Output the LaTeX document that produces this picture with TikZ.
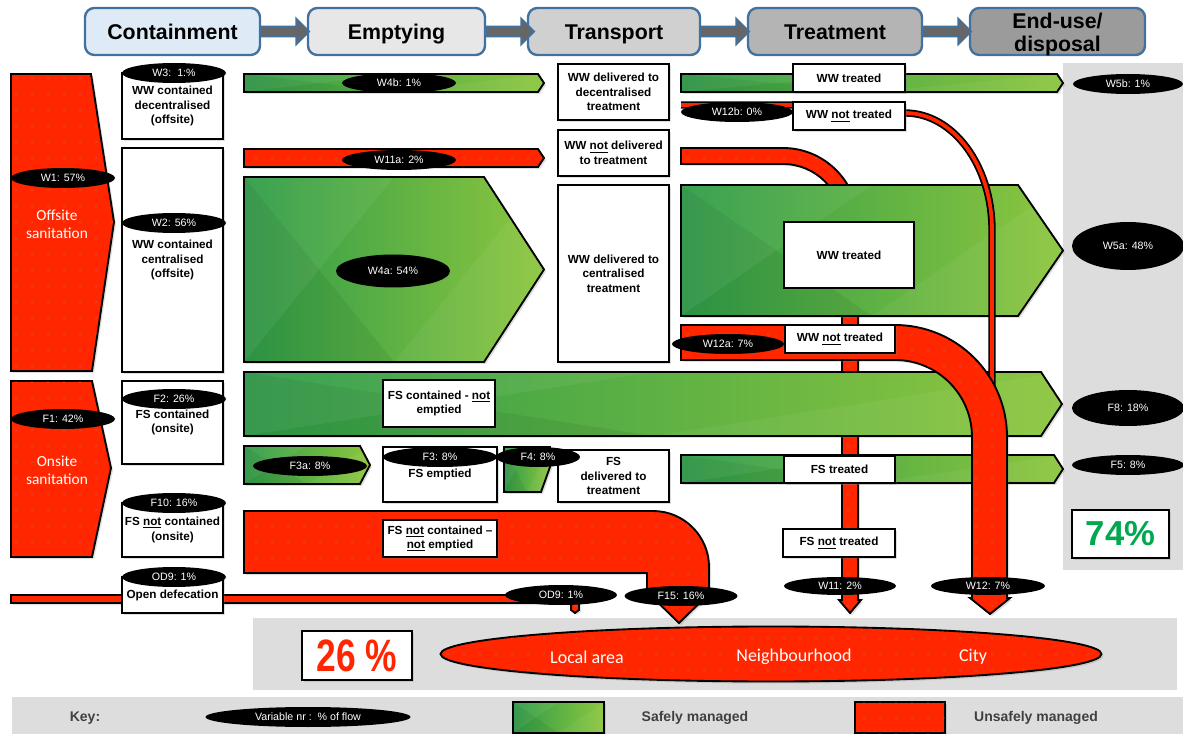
\documentclass[tikz,border=0pt]{standalone}
\usepackage{fontspec}
\setmainfont{Liberation Sans}
\newfontfamily\calfont{Carlito}
\usetikzlibrary{shapes.geometric,shadows,patterns}
\definecolor{sred}{RGB}{255,38,0}
\definecolor{gdark}{RGB}{46,156,72}
\definecolor{gmid}{RGB}{84,182,72}
\definecolor{glight}{RGB}{141,198,63}
\definecolor{hblue}{RGB}{65,113,156}
\definecolor{panel}{RGB}{221,221,221}
\definecolor{keytext}{RGB}{64,64,64}
\definecolor{pctgreen}{RGB}{0,168,80}
\definecolor{hbA}{RGB}{222,235,247}
\definecolor{hbB}{RGB}{231,231,231}
\definecolor{hbC}{RGB}{208,208,208}
\definecolor{hbD}{RGB}{180,180,180}
\definecolor{hbE}{RGB}{155,155,155}
\pgfdeclarepatternformonly{sparsedots}{\pgfqpoint{-1pt}{-1pt}}{\pgfqpoint{1pt}{1pt}}{\pgfqpoint{12pt}{12pt}}{\pgfpathcircle{\pgfqpoint{0pt}{0pt}}{0.5pt}\pgfusepath{fill}}
\tikzset{
  redshape/.style={fill=sred, draw=black, line width=1.4pt, postaction={pattern=sparsedots, pattern color=gray!80}},
  greenshape/.style={left color=gdark, middle color=gmid, right color=glight, draw=black, line width=1.4pt,
    path picture={
      \fill[black,opacity=0.06] (path picture bounding box.north west) -- (path picture bounding box.south) -- (path picture bounding box.south west) -- cycle;
      \fill[white,opacity=0.06] (path picture bounding box.south west) -- (path picture bounding box.north) -- (path picture bounding box.north west) -- cycle;
      \fill[white,opacity=0.05] (path picture bounding box.south) -- (path picture bounding box.north east) -- (path picture bounding box.south east) -- cycle;
    }},
  wb/.style={draw=black, fill=white, line width=1.4pt, align=center, inner sep=1pt, font=\bfseries\fontsize{8.8}{11}\selectfont},
  lab/.style={ellipse, fill=black, text=white, inner sep=0pt, font=\fontsize{8}{9}\selectfont},
  hdr/.style={draw=hblue, line width=1.8pt, rounded corners=7pt, font=\bfseries\fontsize{16}{17}\selectfont, align=center},
  harrow/.style={fill=black!60, draw=hblue, line width=1.2pt},
  shad/.style={drop shadow={opacity=0.25, shadow xshift=1.5pt, shadow yshift=-1.5pt}},
  wtxt/.style={text=white, align=center, font=\calfont\fontsize{11.5}{13.5}\selectfont},
  dtxt/.style={text=white, font=\calfont\fontsize{13.5}{15}\selectfont},
  keyt/.style={text=keytext, font=\bfseries\fontsize{10.5}{12}\selectfont},
}
\newcommand\wbox[7][]{\node[wb,shad,minimum width=#5*0.75pt,minimum height=#6*0.75pt,#1] (#2) at (#3,#4) {#7};}
\newcommand\elab[6]{\node[lab,minimum width=#4*0.75pt,minimum height=#5*0.75pt] (#1) at (#2,#3) {#6};}
\begin{document}
\begin{tikzpicture}[x=0.75pt,y=-0.75pt]
\useasboundingbox (0,0) rectangle (1183,734);
\fill[white] (0,0) rectangle (1183,734);
% panels
\fill[panel] (1063,63) rectangle (1183,570);
\fill[panel] (253,618) rectangle (1177,690);
\fill[panel] (12,697) rectangle (1183,734);

% header boxes
\node[hdr, fill=hbA, minimum width=175*0.75pt, minimum height=47*0.75pt, text height=11.5pt, text depth=0pt] (h1) at (172.5,31.5) {Containment};
\node[hdr, fill=hbB, minimum width=177*0.75pt, minimum height=47*0.75pt, text height=11.5pt, text depth=0pt] (h2) at (396.5,31.5) {Emptying};
\node[hdr, fill=hbC, minimum width=172*0.75pt, minimum height=47*0.75pt, text height=11.5pt, text depth=0pt] (h3) at (614,31.5) {Transport};
\node[hdr, fill=hbD, minimum width=174*0.75pt, minimum height=47*0.75pt, text height=11.5pt, text depth=0pt] (h4) at (835,31.5) {Treatment};
\node[hdr, fill=hbE, minimum width=175*0.75pt, minimum height=47*0.75pt] (h5) at (1057.5,31.5) {};
\node[font=\bfseries\fontsize{16}{17}\selectfont, align=center] (h5t) at (1057.5,34.5) {End-use/\\disposal};
% header arrows
\foreach \a/\b in {h1/h2,h2/h3,h3/h4,h4/h5}{
  \path[harrow] (\a.east) ++(0,-5) -- ++(35,0) -- ++(0,-8) -- ++(13,13) -- ++(-13,13) -- ++(0,-8) -- ++(-35,0) -- cycle;
}

% left red shapes
\path[redshape,shad] (11,74) -- (91,74) -- (114,222) -- (92,371) -- (11,371) -- cycle;
\node[wtxt] (offs) at (57,224) {Offsite\\sanitation};
\path[redshape,shad] (11,381) -- (92,381) -- (111,468) -- (92,557) -- (11,557) -- cycle;
\node[wtxt] (ons) at (57,470) {Onsite\\sanitation};

% W11 flow (behind green)
\path[redshape,shad] (681,148) -- (783,148) arc[start angle=-90, end angle=0, radius=75] -- (858,600) -- (861,600) -- (850,613) -- (839,600) -- (842,600) -- (842,223) arc[start angle=0, end angle=-90, radius=59] -- (681,164) -- cycle;

% green flows
\path[greenshape,shad] (244,74) -- (538,74) -- (544,83) -- (538,92) -- (244,92) -- cycle;
\path[greenshape,shad] (244,177) -- (484,177) -- (544,269.5) -- (484,362) -- (244,362) -- cycle;
\path[greenshape,shad] (244,372) -- (1041,372) -- (1062,404) -- (1041,436) -- (244,436) -- cycle;
\path[greenshape,shad] (244,446) -- (360,446) -- (370,465) -- (360,484) -- (244,484) -- cycle;
\path[greenshape,shad] (504,447) -- (550,447) -- (550,467) -- (541,492) -- (504,492) -- cycle;
\path[greenshape,shad] (681,74) -- (1057,74) -- (1063,83) -- (1057,92) -- (681,92) -- cycle;
\path[greenshape,shad] (681,185) -- (1018,185) -- (1063,250.5) -- (1018,316) -- (681,316) -- cycle;
\path[greenshape,shad] (681,455) -- (1054,455) -- (1063,469) -- (1054,483) -- (681,483) -- cycle;

% W11a red bar
\path[redshape,shad] (244,149) -- (538,149) -- (544,158) -- (538,167) -- (244,167) -- cycle;

% W12b thin flow
\draw[sred, line width=2.8pt, preaction={draw=black, line width=5.5pt}] (681,105) -- (800,105) -- (905,113) arc[start angle=-90, end angle=0, x radius=87, y radius=117] -- (992,395);

% W12a flow
\path[redshape,shad] (681,325) -- (895,325) arc[start angle=-90, end angle=0, radius=112] -- (1007,598) -- (1010,598) -- (990,614) -- (970,598) -- (972,598) -- (972,437) arc[start angle=0, end angle=-90, radius=77] -- (681,360) -- cycle;

% F15 flow
\path[redshape,shad] (244,511) -- (653,511) arc[start angle=-90, end angle=0, radius=56] -- (709,590) -- (713,590) -- (679,623) -- (645,590) -- (647,590) -- (647,573) -- (244,573) -- cycle;

% OD flow
\path[redshape,shad] (11,595) -- (579,595) -- (579,610) -- (575,613) -- (571,610) -- (571,603) -- (11,603) -- cycle;

% containment boxes
\wbox{c1}{172.5}{106}{101}{66}{WW contained\\decentralised\\(offsite)}
\wbox{c2}{172.5}{260}{101}{224}{WW contained\\centralised\\(offsite)}
\wbox{c3}{172.5}{422.5}{101}{83}{FS contained\\(onsite)}
\wbox{c4}{172.5}{530}{101}{54}{FS \underline{not} contained\\(onsite)}
\wbox{c5}{172.5}{595}{101}{36}{Open defecation}

% emptying boxes
\wbox{e1}{439}{403.5}{112}{47}{FS contained - \underline{not}\\emptied}
\wbox{e2}{440}{474.5}{114}{55}{FS emptied}
\wbox{e3}{440}{538.5}{114}{37}{FS \underline{not} contained --\\\underline{not} emptied}

% transport boxes
\wbox{t1}{613.5}{92}{111}{56}{WW delivered to\\decentralised\\treatment}
\wbox{t2}{613.5}{153}{111}{46}{WW \underline{not} delivered\\to treatment}
\wbox{t3}{613.5}{273.5}{111}{177}{WW delivered to\\centralised\\treatment}
\wbox{t4}{613.5}{476}{111}{52}{FS\\delivered to\\treatment}

% treatment boxes
\wbox{r1}{849}{78}{112}{28}{WW treated}
\wbox{r2}{849}{116}{112}{28}{WW \underline{not} treated}
\wbox{r3}{849}{255}{130}{66}{WW treated}
\wbox{r4}{840}{339}{110}{28}{WW \underline{not} treated}
\wbox{r5}{839.5}{469.5}{111}{27}{FS treated}
\wbox{r6}{839}{543}{112}{28}{FS \underline{not} treated}

% percentage boxes
\node[draw=black, fill=white, line width=1.4pt, shad, minimum width=97*0.75pt, minimum height=48*0.75pt, inner sep=0pt] (p74) at (1120.5,534) {\fontsize{26}{26}\selectfont\bfseries\color{pctgreen}74\%};
\node[draw=black, fill=white, line width=1.4pt, shad, minimum width=110*0.75pt, minimum height=49*0.75pt, inner sep=0pt] (p26) at (357,655.5) {\scalebox{0.78}[1]{\fontsize{34}{34}\selectfont\bfseries\color{sred}26 \%}};

% destination ellipse
\node[ellipse, redshape, shad, minimum width=661*0.75pt, minimum height=55*0.75pt] (dest) at (771,654) {};
\node[dtxt] (loc) at (587,657) {Local area};
\node[dtxt] (nei) at (794,657) {Neighbourhood};
\node[dtxt] (cit) at (973,657) {City};

% labels
\elab{w1}{63}{178}{104}{20}{W1: 57\%}
\elab{f1}{63}{419}{104}{20}{F1: 42\%}
\elab{w3}{174}{73}{104}{20}{W3:\ \ 1:\%}
\elab{w2}{174}{223}{104}{20}{W2: 56\%}
\elab{f2}{174}{399}{104}{20}{F2: 26\%}
\elab{f10}{174}{503}{104}{20}{F10: 16\%}
\elab{od9}{174}{577}{104}{20}{OD9: 1\%}
\elab{w4b}{399}{83}{114}{20}{W4b: 1\%}
\elab{w11a}{399}{160}{114}{20}{W11a: 2\%}
\elab{w4a}{393}{271}{114}{33}{W4a: 54\%}
\elab{f3a}{310}{466}{114}{20}{F3a: 8\%}
\elab{f3}{440}{457}{114}{20}{F3: 8\%}
\elab{f4}{538}{457}{84}{20}{F4: 8\%}
\elab{od9b}{561}{595}{112}{20}{OD9: 1\%}
\elab{f15}{681}{596}{113}{20}{F15: 16\%}
\elab{w12b}{737}{112}{112}{20}{W12b: 0\%}
\elab{w12a}{728}{344}{112}{20}{W12a: 7\%}
\elab{w11}{840}{586}{112}{18}{W11: 2\%}
\elab{w12}{988}{586}{114}{18}{W12: 7\%}
\elab{w5b}{1128}{84}{110}{20}{W5b: 1\%}
\elab{w5a}{1128}{246}{112}{48}{W5a: 48\%}
\elab{f8}{1128}{408}{112}{36}{F8: 18\%}
\elab{f5}{1128}{465}{112}{20}{F5: 8\%}

% key
\node[keyt] (key) at (85,718) {Key:};
\elab{keyl}{308}{717}{205}{20}{Variable nr :\ \ \% of flow}
\path[greenshape,shad] (513,702) rectangle (604,733);
\node[keyt] (ksafe) at (695,718) {Safely managed};
\path[redshape,shad] (855,702) rectangle (945,733);
\node[keyt] (kunsafe) at (1036,718) {Unsafely managed};
\end{tikzpicture}
\end{document}
